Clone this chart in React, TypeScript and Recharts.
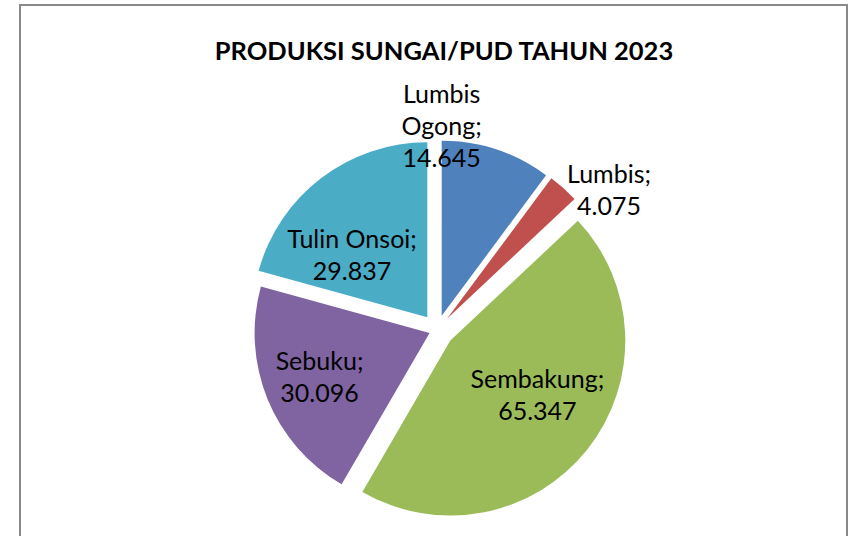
import { PieChart, Pie, Cell, Sector } from 'recharts';

const kecamatan = ['Lumbis Ogong', 'Lumbis', 'Sembakung', 'Sebuku', 'Tulin Onsoi'];
const produksi = [14645, 4075, 65347, 30096, 29837];
const warna = ['#4F81BD', '#C0504D', '#9BBB59', '#8064A2', '#4BACC6'];

// how far each slice is pulled out, and where its label sits (radius factor, angle shift)
const explode = [15, 15, 17, 8, 16];
const labelPos = [
  { f: 1.17, da: 17 },
  { f: 1.27, da: -9 },
  { f: 0.68, da: 6 },
  { f: 0.72, da: -1 },
  { f: 0.65, da: 11 },
];
const wrapName = [true, false, false, false, false];

const data = kecamatan.map((name, i) => ({ name, value: produksi[i] }));

const RAD = Math.PI / 180;
const fontFamily = 'Lato, "Open Sans", sans-serif';

const fmt = (v: number) => v.toString().replace(/\B(?=(\d{3})+(?!\d))/g, '.');

const ExplodedSector = (props: any) => {
  const d = explode[props.index] ?? 0;
  const dx = Math.cos(-props.midAngle * RAD) * d;
  const dy = Math.sin(-props.midAngle * RAD) * d;
  return <Sector {...props} cx={props.cx + dx} cy={props.cy + dy} stroke="none" />;
};

const renderLabel = (props: any) => {
  const { cx, cy, midAngle, outerRadius, index } = props;
  const pos = labelPos[index];
  const ang = (midAngle + pos.da) * RAD;
  const x = cx + Math.cos(ang) * outerRadius * pos.f;
  const y = cy - Math.sin(ang) * outerRadius * pos.f;
  const name = kecamatan[index];
  const lines = wrapName[index]
    ? [...name.split(' ').slice(0, -1), name.split(' ').slice(-1)[0] + ';', fmt(produksi[index])]
    : [name + ';', fmt(produksi[index])];
  const lh = 32;
  const top = y - ((lines.length - 1) * lh) / 2;
  return (
    <text
      x={x}
      y={top}
      textAnchor="middle"
      dominantBaseline="central"
      fontFamily={fontFamily}
      fontSize={25}
      fill="#000"
    >
      {lines.map((l, k) => (
        <tspan key={k} x={x} y={top + k * lh}>
          {l}
        </tspan>
      ))}
    </text>
  );
};

export default function App() {
  return (
    <div style={{ width: 850, height: 536, position: 'relative', overflow: 'hidden' }}>
      <style>{'body{margin:0}'}</style>
      <PieChart width={850} height={536} margin={{ top: 0, right: 0, bottom: 0, left: 0 }}>
        <rect x={20} y={5} width={827} height={620} fill="#fff" stroke="#898989" strokeWidth={2} />
        <text
          x={444}
          y={50}
          textAnchor="middle"
          dominantBaseline="central"
          fontFamily={fontFamily}
          fontWeight="bold"
          fontSize={25.5}
          fill="#000"
        >
          PRODUKSI SUNGAI/PUD TAHUN 2023
        </text>
        <Pie
          data={data}
          dataKey="value"
          nameKey="name"
          cx={437}
          cy={330}
          outerRadius={175}
          startAngle={90}
          endAngle={-270}
          isAnimationActive={false}
          labelLine={false}
          label={renderLabel}
          shape={ExplodedSector}
          inactiveShape={ExplodedSector}
          activeShape={ExplodedSector}
        >
          {data.map((d, i) => (
            <Cell key={d.name} fill={warna[i]} />
          ))}
        </Pie>
      </PieChart>
    </div>
  );
}
